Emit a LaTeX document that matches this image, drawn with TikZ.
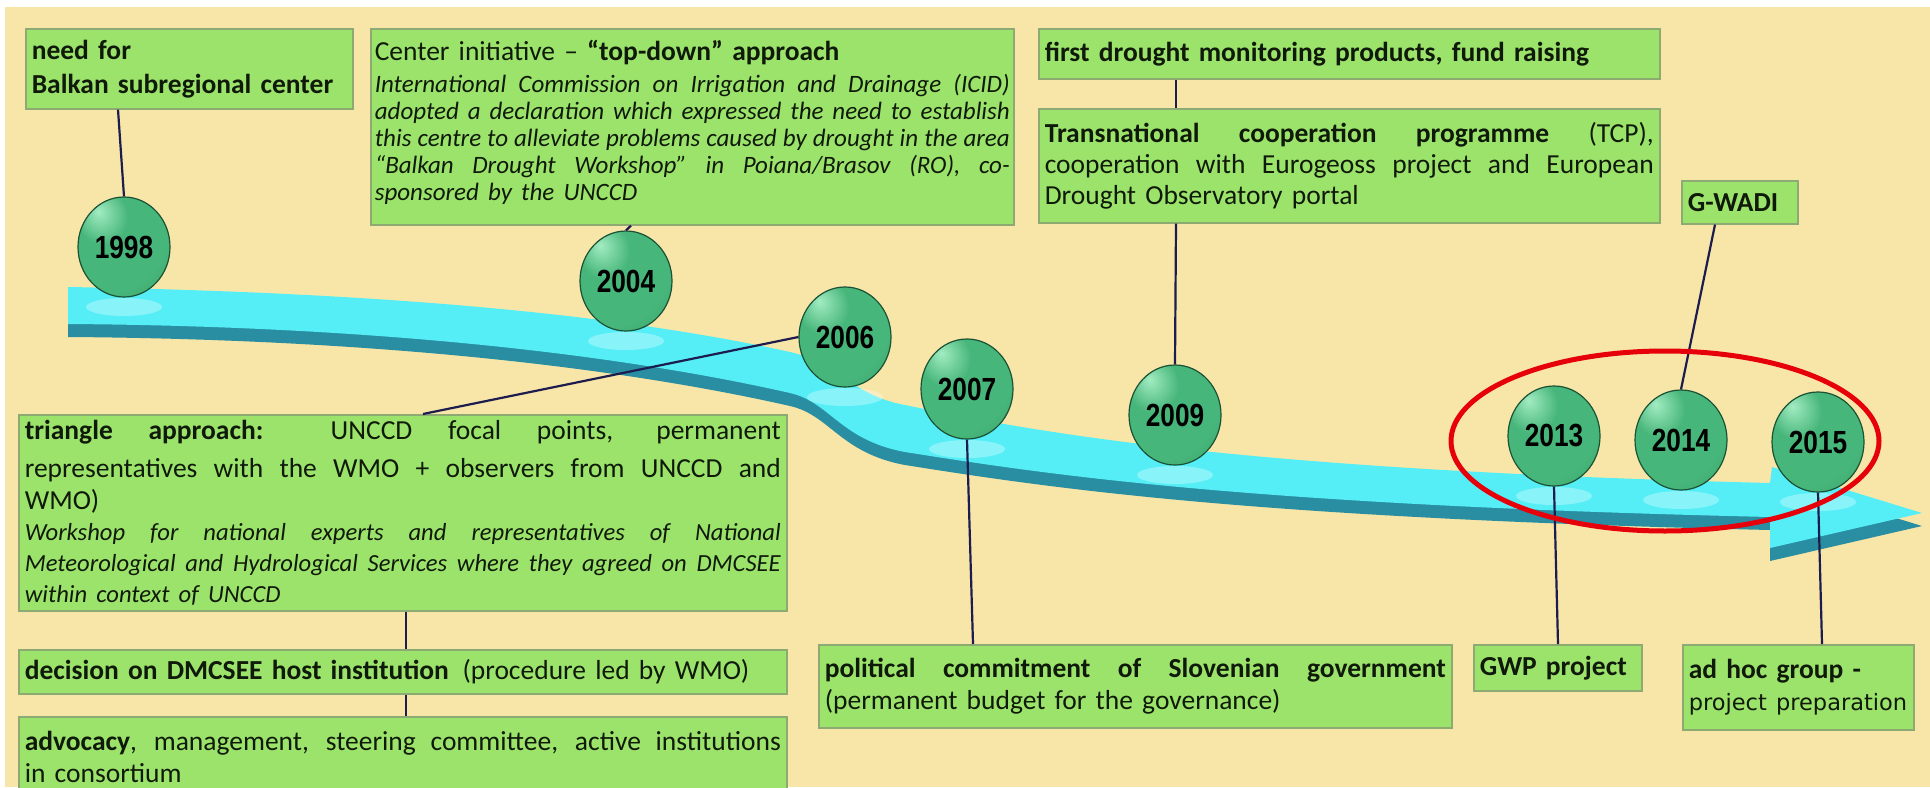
\documentclass[tikz,border=0pt]{standalone}
\usepackage{fontspec}
\usepackage{graphicx}
\setmainfont{Carlito}
\newfontfamily\yearfont{Liberation Sans}
\newfontfamily\altfont{DejaVu Sans}
\usetikzlibrary{shapes.geometric,calc}

\definecolor{bgbeige}{HTML}{F8E6A8}
\definecolor{boxfill}{HTML}{9CE36B}
\definecolor{boxedge}{HTML}{8DAA72}
\definecolor{txt}{HTML}{101A0A}
\definecolor{connc}{HTML}{1C1C4E}
\definecolor{ribbon}{HTML}{55EEF6}
\definecolor{ribbonside}{HTML}{2A8EA2}
\definecolor{ringred}{HTML}{E6000A}
\definecolor{ballhi}{HTML}{A2ECC2}
\definecolor{ballmid}{HTML}{47B67A}
\definecolor{ballmd}{HTML}{359A62}
\definecolor{balldark}{HTML}{1F6B45}
\definecolor{balledge}{HTML}{1B5235}

% green sphere with a highlight up and to the left
\pgfdeclareradialshading{sphere}{\pgfpoint{-14bp}{18bp}}{%
  color(0bp)=(ballhi); color(14bp)=(ballmid); color(34bp)=(ballmid);
  color(52bp)=(ballmd); color(66bp)=(balldark); color(90bp)=(balldark)}

\newcommand{\fs}[2]{\fontsize{#1}{#2}\selectfont}
% one line stretched to the full text width (font glue, so spaces can stretch)
\newcommand{\jl}[1]{\leavevmode\hbox to \hsize{\spaceskip=0pt\xspaceskip=0pt\relax #1}}

% outline of the timeline ribbon with its arrow head
\newcommand{\ribbonpath}{(68,287) .. controls (350,292) and (600,310) .. (790,352)
  .. controls (840,363) and (850,395) .. (905,405)
  .. controls (1050,435) and (1250,470) .. (1770,483)
  -- (1772,467) -- (1922,513) -- (1770,548) -- (1770,517)
  .. controls (1250,505) and (1050,475) .. (905,452)
  .. controls (840,440) and (830,402) .. (790,393)
  .. controls (600,350) and (350,326) .. (68,324) -- cycle}

\begin{document}
\begin{tikzpicture}[x=1pt, y=-1pt,
  tbox/.style={draw=boxedge, line width=1.6pt, fill=boxfill, anchor=north west,
    inner xsep=6pt, inner ysep=0pt, text=txt, align=left, font=\fs{27.5}{32}},
  yball/.style={ellipse, minimum width=92pt, minimum height=100pt, inner sep=0pt,
    draw=balledge, line width=1.2pt, shading=sphere, text=black,
    font=\yearfont\bfseries\fs{32}{32}},
  conn/.style={draw=connc, line width=2.2pt},
  glint/.style={fill=white, opacity=0.3}]

\useasboundingbox (0,0) rectangle (1930,787);
\fill[white] (0,0) rectangle (1930,787);
\fill[bgbeige] (5,7) rectangle (1930,787);

% ribbon: dark side face, then the bright top face
\fill[ribbonside, shift={(0,13)}] \ribbonpath;
\fill[ribbon] \ribbonpath;

% ball positions
\coordinate (c1998) at (124,247);
\coordinate (c2004) at (626,281);
\coordinate (c2006) at (845,337);
\coordinate (c2007) at (967,389);
\coordinate (c2009) at (1175,415);
\coordinate (c2013) at (1554,436);
\coordinate (c2014) at (1681,440);
\coordinate (c2015) at (1818,442);

% light spots on the ribbon below the balls
\foreach \c in {c1998,c2004,c2006,c2007,c2009,c2013,c2014,c2015}
  \fill[glint] ($(\c)+(0,60)$) ellipse [x radius=38pt, y radius=9pt];

% text boxes
\node[tbox, minimum width=327pt, minimum height=80pt, text width=315pt, font=\bfseries\fs{27.5}{34}] (n1) at (25,28)
  {need for\\Balkan subregional center};

\node[tbox, minimum width=643pt, minimum height=196pt, inner xsep=4pt, text width=635pt] (n2) at (370,28)
  {{\fs{27.5}{30}Center initiative – \textbf{“top-down” approach}\par}
   \vspace{5pt}
   {\itshape\fs{25}{27}%
   \jl{International Commission on Irrigation and Drainage (ICID)}\\
   \jl{adopted a declaration which expressed the need to establish}\\
   \jl{this centre to alleviate problems caused by drought in the area}\\
   \jl{“Balkan Drought Workshop” in Poiana/Brasov (RO), co-}\\
   sponsored by the UNCCD\par}
   \vspace*{8pt}};

\node[tbox, minimum width=621pt, minimum height=50pt, text width=609pt] (n3) at (1038,28)
  {\textbf{first drought monitoring products, fund raising}};

\node[tbox, minimum width=621pt, minimum height=114pt, text width=609pt, font=\fs{27.5}{31}] (n4) at (1038,108)
  {\jl{\textbf{Transnational cooperation programme} (TCP),}\\
   \jl{cooperation with Eurogeoss project and European}\\
   Drought Observatory portal};

\node[tbox, minimum width=116pt, minimum height=43pt, text width=104pt] (n5) at (1681,180)
  {\textbf{G-WADI}};

\node[tbox, minimum width=768pt, minimum height=196pt, text width=756pt] (n6) at (18,414)
  {\vspace*{6pt}%
   {\fs{27.5}{32}%
   \jl{\textbf{triangle approach:} UNCCD focal points, permanent}\\
   \jl{representatives with the WMO + observers from UNCCD and}\\
   WMO)\par}
   {\itshape\fs{24.6}{31}%
   \jl{Workshop for national experts and representatives of National}\\
   \jl{Meteorological and Hydrological Services where they agreed on DMCSEE}\\
   within context of UNCCD\par}};

\node[tbox, minimum width=768pt, minimum height=44pt, text width=756pt] (n7) at (18,649)
  {\textbf{decision on DMCSEE host institution}\enspace(procedure led by WMO)};

\node[tbox, minimum width=768pt, minimum height=80pt, text width=756pt] (n8) at (18,716)
  {\jl{\textbf{advocacy}, management, steering committee, active institutions}\\
   in consortium};

\node[tbox, minimum width=633pt, minimum height=83pt, text width=621pt] (n9) at (818,644)
  {\jl{\textbf{political commitment of Slovenian government}}\\
   (permanent budget for the governance)};

\node[tbox, minimum width=168pt, minimum height=46pt, text width=156pt] (n10) at (1473,644)
  {\textbf{GWP project}};

\node[tbox, minimum width=231pt, minimum height=85pt, text width=219pt] (n11) at (1682,644)
  {\textbf{ad hoc group -}\\
   {\altfont\fs{22.5}{30}project preparation}};

% year balls
\node[yball] (y1998) at (c1998) {\scalebox{0.82}[1]{1998}};
\node[yball] (y2004) at (c2004) {\scalebox{0.82}[1]{2004}};
\node[yball] (y2006) at (c2006) {\scalebox{0.82}[1]{2006}};
\node[yball] (y2007) at (c2007) {\scalebox{0.82}[1]{2007}};
\node[yball] (y2009) at (c2009) {\scalebox{0.82}[1]{2009}};
\node[yball] (y2013) at (c2013) {\scalebox{0.82}[1]{2013}};
\node[yball] (y2014) at (c2014) {\scalebox{0.82}[1]{2014}};
\node[yball] (y2015) at (c2015) {\scalebox{0.82}[1]{2015}};

% connectors
\draw[conn] ($(n1.south west)+(93,0)$) -- (y1998.north);
\draw[conn] ($(n2.south west)+(261,0)$) -- (y2004.north);
\draw[conn] (y2006.west) -- ($(n6.north west)+(405,0)$);
\draw[conn] (y2007.south) -- ($(n9.north west)+(155,0)$);
\draw[conn] ($(n3.south west)+(138,0)$) -- ($(n4.north west)+(138,0)$);
\draw[conn] ($(n4.south west)+(138,0)$) -- (y2009.north);
\draw[conn] ($(n5.south west)+(34,0)$) -- (y2014.north);
\draw[conn] (y2013.south) -- ($(n10.north west)+(85,0)$);
\draw[conn] (y2015.south) -- ($(n11.north west)+(140,0)$);
\draw[conn] ($(n6.south west)+(388,0)$) -- ($(n7.north west)+(388,0)$);
\draw[conn] ($(n7.south west)+(388,0)$) -- ($(n8.north west)+(388,0)$);

% red ring round the last three years
\draw[ringred, line width=5pt] (1665,441) ellipse [x radius=214pt, y radius=90pt];
\end{tikzpicture}
\end{document}
